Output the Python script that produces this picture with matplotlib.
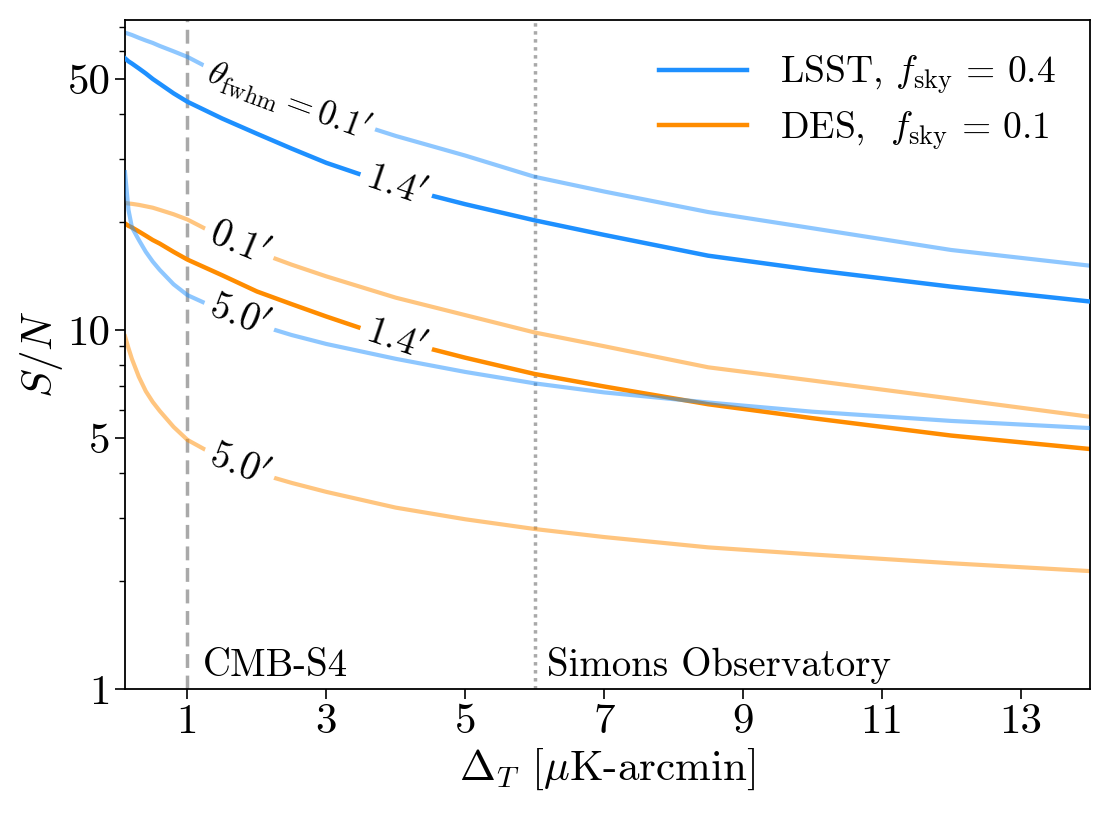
import numpy as np
import matplotlib
matplotlib.use('Agg')
import matplotlib.pyplot as plt

plt.rcParams['font.family'] = 'serif'
plt.rcParams['font.serif'] = ['cmr10']
plt.rcParams['mathtext.fontset'] = 'cm'
plt.rcParams['axes.formatter.use_mathtext'] = True

# noise levels (muK-arcmin)
delta_t = [0.1, 0.15, 0.2, 0.3, 0.4, 0.5, 0.6, 0.8, 1, 1.5, 2, 2.5, 3, 4, 5, 6, 7, 8.5, 10, 12, 14]

# S/N
lsst_01 = [67.3, 66.8, 66.3, 65.1, 64.0, 63.0, 61.8, 59.7, 57.6, 51.3, 46.9, 43.2, 40.0, 34.7, 30.6, 26.7, 24.3, 21.3, 19.2, 16.7, 15.1]
lsst_14 = [57.1, 56.0, 55.2, 53.5, 51.8, 50.0, 48.5, 45.6, 43.2, 38.8, 35.2, 32.0, 29.2, 25.1, 22.4, 20.2, 18.4, 16.1, 14.7, 13.2, 12.0]
lsst_50 = [27.5, 21.6, 19.3, 17.8, 16.5, 15.5, 14.7, 13.4, 12.5, 11.3, 10.36, 9.68, 9.14, 8.31, 7.64, 7.10, 6.70, 6.28, 5.92, 5.58, 5.33]
des_01 = [22.6, 22.5, 22.45, 22.3, 22.1, 21.9, 21.6, 21.0, 20.3, 18.1, 16.5, 15.2, 14.1, 12.3, 11.0, 9.84, 9.01, 7.87, 7.23, 6.44, 5.73]
des_14 = [19.8, 19.5, 19.3, 18.8, 18.3, 17.8, 17.4, 16.5, 15.7, 14.2, 12.8, 11.8, 10.9, 9.38, 8.37, 7.54, 6.96, 6.21, 5.68, 5.08, 4.66]
des_50 = [9.6, 8.9, 8.3, 7.4, 6.75, 6.30, 5.95, 5.37, 4.94, 4.37, 4.00, 3.75, 3.54, 3.20, 2.97, 2.79, 2.65, 2.48, 2.37, 2.24, 2.13]

blue = '#1E90FF'
orange = '#FF8C00'

fig = plt.figure(figsize=(11.13, 8.15), dpi=100)
ax = fig.add_axes([0.1123, 0.1546, 0.9793 - 0.1123, 0.9755 - 0.1546])

ax.plot(delta_t, lsst_01, color=blue, alpha=0.5, lw=3, zorder=2)
ax.plot(delta_t, lsst_14, color=blue, lw=3.2, zorder=4, label=r'LSST, $f_{\rm sky} \,=\, 0.4$')
ax.plot(delta_t, lsst_50, color=blue, alpha=0.5, lw=3, zorder=4)
ax.plot(delta_t, des_01, color=orange, alpha=0.5, lw=3, zorder=2)
ax.plot(delta_t, des_14, color=orange, lw=3.2, zorder=2, label=r'DES,  $f_{\rm sky} \,=\, 0.1$')
ax.plot(delta_t, des_50, color=orange, alpha=0.5, lw=3, zorder=2)

ax.axvline(1, color='darkgray', ls=(0, (4, 2.2)), lw=2.5, zorder=1)
ax.axvline(6, color='darkgray', ls=(0, (1, 1.3)), lw=2.5, zorder=1)
ax.text(1.22, 1.09, 'CMB-S4', fontsize=28)
ax.text(6.18, 1.09, 'Simons Observatory', fontsize=28)

ax.set_yscale('log')
ax.set_xlim(0.1, 14)
ax.set_ylim(1, 73)
ax.set_xticks([1, 3, 5, 7, 9, 11, 13])
ax.set_xticklabels(['1', '3', '5', '7', '9', '11', '13'])
ax.set_yticks([1, 5, 10, 50])
ax.set_yticklabels(['1', '5', '10', '50'])
ax.set_yticks([2, 3, 4, 6, 7, 8, 9, 20, 30, 40, 60, 70], minor=True)
ax.yaxis.set_minor_formatter(plt.NullFormatter())
ax.tick_params(which='major', labelsize=31, length=7, width=1.2)
ax.tick_params(which='minor', length=4, width=1)
for s in ax.spines.values():
    s.set_linewidth(1.3)

ax.set_xlabel(r'$\Delta_T$ [$\mu$K-arcmin]', fontsize=31, labelpad=4)
ax.set_ylabel(r'$S/N$', fontsize=31, labelpad=2)

ax.legend(loc='upper right', frameon=False, fontsize=27, handlelength=2.35,
          handletextpad=0.9, borderaxespad=0.5, labelspacing=0.35)

# inline labels along the curves (white box breaks the line)
def inline_label(xs, ys, x0, txt, z=3, size=28):
    xs = np.asarray(xs)
    ly = np.log10(ys)
    y0 = 10 ** np.interp(x0, xs, ly)
    i = np.searchsorted(xs, x0) - 1
    p = ax.transData.transform([[xs[i], ys[i]], [xs[i + 1], ys[i + 1]]])
    ang = np.degrees(np.arctan2(p[1, 1] - p[0, 1], p[1, 0] - p[0, 0]))
    ax.text(x0, y0, txt, fontsize=size, rotation=ang, rotation_mode='anchor',
            ha='center', va='center', zorder=z,
            bbox=dict(boxstyle='square,pad=0.18', fc='white', ec='none'))

inline_label(delta_t, lsst_01, 2.45, r'$\theta_{\rm fwhm} = \mathit{0.1}^{\prime}$', size=25)
inline_label(delta_t, lsst_14, 4.0, r'$\mathit{1.4}^{\prime}$', z=5)
inline_label(delta_t, des_01, 1.74, r'$\mathit{0.1}^{\prime}$')
inline_label(delta_t, lsst_50, 1.74, r'$\mathit{5.0}^{\prime}$', z=5)
inline_label(delta_t, des_14, 4.0, r'$\mathit{1.4}^{\prime}$')
inline_label(delta_t, des_50, 1.74, r'$\mathit{5.0}^{\prime}$')

fig.savefig('out.png', dpi=100)
